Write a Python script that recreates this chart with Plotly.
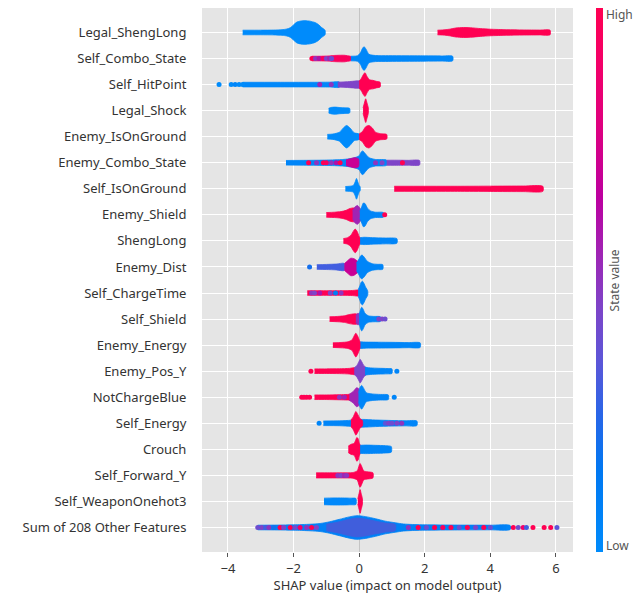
import plotly.graph_objects as go
from plotly.colors import sample_colorscale

# Feature names, top to bottom
FEATURES = [
    "Legal_ShengLong", "Self_Combo_State", "Self_HitPoint", "Legal_Shock",
    "Enemy_IsOnGround", "Enemy_Combo_State", "Self_IsOnGround", "Enemy_Shield",
    "ShengLong", "Enemy_Dist", "Self_ChargeTime", "Self_Shield",
    "Enemy_Energy", "Enemy_Pos_Y", "NotChargeBlue", "Self_Energy",
    "Crouch", "Self_Forward_Y", "Self_WeaponOnehot3", "Sum of 208 Other Features",
]

X_TICKS = [-4, -2, 0, 2, 4, 6]

# Each group: (normalised feature value, SHAP values along the group, relative point density)
LEGAL_SHENGLONG = [
    (0.0, [-3.55, -3.0, -2.6, -2.35, -2.2, -2.1, -2.0, -1.9, -1.78, -1.65, -1.5, -1.34, -1.24,
           -1.14, -1.04],
     [0.22, 0.22, 0.23, 0.26, 0.32, 0.42, 0.65, 0.88, 0.97, 1.0, 0.96, 0.84, 0.68, 0.43, 0.22]),
    (1.0, [2.39, 2.55, 2.75, 2.95, 3.18, 3.4, 3.7, 4.0, 4.5, 5.0, 5.5, 5.82],
     [0.22, 0.24, 0.3, 0.4, 0.44, 0.42, 0.35, 0.3, 0.26, 0.24, 0.23, 0.22]),
]
SELF_COMBO_STATE = [
    (0.95, [-1.44, -1.2, -0.95, -0.78, -0.6, -0.45, -0.36, -0.25],
     [0.22, 0.22, 0.24, 0.28, 0.3, 0.3, 0.26, 0.2]),
    (0.03, [-0.25, -0.05, 0.04, 0.1, 0.15, 0.21, 0.3, 0.5, 0.9, 1.4, 2.0, 2.5, 2.85],
     [0.22, 0.26, 0.5, 0.85, 1.0, 0.8, 0.38, 0.28, 0.27, 0.26, 0.25, 0.24, 0.22]),
]
SELF_HITPOINT = [
    (0.02, [-3.55, -2.5, -1.5, -0.9, -0.6], [0.22, 0.22, 0.22, 0.23, 0.24]),
    (0.45, [-0.65, -0.4, -0.2, -0.05, 0.06], [0.23, 0.26, 0.3, 0.34, 0.3]),
    (1.0, [0.0, 0.07, 0.13, 0.18, 0.24, 0.32, 0.42, 0.52, 0.64],
     [0.3, 0.55, 0.85, 1.0, 0.7, 0.42, 0.38, 0.3, 0.22]),
]
LEGAL_SHOCK = [
    (0.0, [-0.93, -0.84, -0.72, -0.58, -0.42, -0.29], [0.22, 0.3, 0.32, 0.28, 0.26, 0.22]),
    (1.0, [0.12, 0.16, 0.2, 0.24, 0.28], [0.25, 0.65, 1.0, 0.65, 0.25]),
]
ENEMY_ISONGROUND = [
    (0.0, [-0.97, -0.8, -0.6, -0.48, -0.38, -0.28, -0.15, 0.0],
     [0.22, 0.25, 0.4, 0.75, 0.95, 0.75, 0.35, 0.25]),
    (1.0, [0.0, 0.1, 0.2, 0.3, 0.4, 0.5, 0.65, 0.84],
     [0.25, 0.45, 0.85, 0.95, 0.75, 0.4, 0.28, 0.22]),
]
ENEMY_COMBO_STATE = [
    (0.05, [-2.23, -1.6, -1.0, -0.5, -0.2, 0.0, 0.06, 0.11, 0.18, 0.3, 0.5, 0.84],
     [0.22, 0.23, 0.25, 0.3, 0.4, 0.6, 0.9, 1.0, 0.8, 0.45, 0.3, 0.24]),
    (0.7, [-0.4, -0.25, -0.12, -0.02], [0.26, 0.38, 0.45, 0.35]),
    (0.45, [0.84, 1.2, 1.5, 1.84], [0.24, 0.24, 0.23, 0.22]),
]
SELF_ISONGROUND = [
    (0.0, [-0.42, -0.3, -0.18, -0.12, -0.08, -0.04, 0.0, 0.03],
     [0.22, 0.24, 0.3, 0.6, 0.88, 0.6, 0.3, 0.2]),
    (1.0, [1.07, 2.0, 3.0, 4.0, 5.0, 5.6], [0.24, 0.24, 0.24, 0.25, 0.26, 0.24]),
]
ENEMY_SHIELD = [
    (1.0, [-1.0, -0.75, -0.55, -0.4, -0.28, -0.15, -0.05],
     [0.22, 0.25, 0.3, 0.4, 0.55, 0.6, 0.45]),
    (0.55, [-0.2, -0.12, -0.05, 0.02, 0.08], [0.35, 0.7, 0.8, 0.6, 0.3]),
    (0.05, [0.02, 0.08, 0.13, 0.18, 0.25, 0.35, 0.5, 0.74],
     [0.3, 0.7, 1.0, 0.95, 0.6, 0.35, 0.25, 0.22]),
]
SHENGLONG = [
    (1.0, [-0.48, -0.35, -0.25, -0.17, -0.12, -0.06, 0.0, 0.05],
     [0.22, 0.3, 0.5, 0.85, 1.0, 0.8, 0.4, 0.22]),
    (0.05, [0.03, 0.15, 0.4, 0.8, 1.15], [0.3, 0.33, 0.3, 0.27, 0.22]),
]
ENEMY_DIST = [
    (0.3, [-1.29, -1.0, -0.7, -0.45], [0.22, 0.24, 0.27, 0.32]),
    (0.7, [-0.45, -0.35, -0.25, -0.15, -0.05, 0.02], [0.3, 0.55, 0.75, 0.7, 0.5, 0.3]),
    (0.05, [-0.08, 0.0, 0.05, 0.09, 0.15, 0.25, 0.4, 0.55, 0.72],
     [0.35, 0.7, 0.95, 1.0, 0.85, 0.5, 0.3, 0.25, 0.22]),
]
SELF_CHARGETIME = [
    (1.0, [-1.58, -1.0, -0.5, -0.2, 0.0], [0.22, 0.22, 0.22, 0.24, 0.26]),
    (0.05, [-0.03, 0.02, 0.06, 0.1, 0.14, 0.2, 0.26], [0.3, 0.6, 0.9, 1.0, 0.85, 0.5, 0.22]),
]
SELF_SHIELD = [
    (1.0, [-0.9, -0.65, -0.45, -0.3, -0.18, -0.08, 0.0], [0.22, 0.25, 0.3, 0.4, 0.45, 0.45, 0.35]),
    (0.5, [-0.1, -0.04, 0.02, 0.06], [0.3, 0.5, 0.45, 0.3]),
    (0.05, [0.0, 0.04, 0.08, 0.12, 0.18, 0.28, 0.45, 0.65],
     [0.35, 0.8, 1.0, 0.85, 0.5, 0.3, 0.25, 0.22]),
]
ENEMY_ENERGY = [
    (1.0, [-0.8, -0.55, -0.35, -0.22, -0.15, -0.1, -0.04, 0.02, 0.06],
     [0.22, 0.25, 0.3, 0.45, 0.8, 1.0, 0.75, 0.35, 0.22]),
    (0.05, [0.04, 0.2, 0.6, 1.0, 1.5, 1.86], [0.3, 0.28, 0.27, 0.26, 0.24, 0.22]),
]
ENEMY_POS_Y = [
    (1.0, [-1.36, -1.0, -0.6, -0.3, -0.12], [0.22, 0.22, 0.23, 0.26, 0.3]),
    (0.45, [-0.15, -0.07, 0.0, 0.03, 0.08, 0.14, 0.22], [0.3, 0.5, 0.85, 1.0, 0.8, 0.5, 0.3]),
    (0.05, [0.18, 0.35, 0.6, 0.85, 1.0], [0.35, 0.3, 0.27, 0.25, 0.22]),
]
NOTCHARGEBLUE = [
    (1.0, [-1.36, -1.0, -0.6, -0.35, -0.2], [0.22, 0.22, 0.24, 0.26, 0.28]),
    (0.55, [-0.3, -0.18, -0.08, -0.02, 0.03], [0.28, 0.5, 0.8, 0.75, 0.4]),
    (0.05, [-0.02, 0.03, 0.08, 0.14, 0.22, 0.4, 0.65, 0.89],
     [0.4, 0.85, 1.0, 0.75, 0.4, 0.3, 0.26, 0.22]),
]
SELF_ENERGY = [
    (0.05, [-1.09, -0.6, -0.25, 0.1, 0.5, 1.0, 1.4, 1.76],
     [0.22, 0.23, 0.28, 0.35, 0.3, 0.26, 0.24, 0.22]),
    (1.0, [-0.25, -0.18, -0.13, -0.1, -0.05, 0.02, 0.1], [0.3, 0.55, 0.85, 1.0, 0.8, 0.45, 0.25]),
]
CROUCH = [
    (1.0, [-0.33, -0.24, -0.16, -0.11, -0.07, -0.03, 0.01, 0.05],
     [0.3, 0.45, 0.5, 0.75, 1.0, 0.9, 0.5, 0.3]),
    (0.05, [0.03, 0.2, 0.5, 0.8, 0.98], [0.36, 0.38, 0.36, 0.33, 0.26]),
]
SELF_FORWARD_Y = [
    (1.0, [-1.31, -0.9, -0.5, -0.2, -0.06, 0.0, 0.03, 0.08, 0.14, 0.25, 0.42],
     [0.24, 0.24, 0.24, 0.26, 0.4, 0.85, 1.0, 0.75, 0.4, 0.33, 0.24]),
]
SELF_WEAPONONEHOT3 = [
    (0.02, [-1.07, -0.8, -0.5, -0.25, -0.1], [0.3, 0.32, 0.32, 0.3, 0.28]),
    (1.0, [-0.04, 0.0, 0.03, 0.06, 0.1], [0.25, 0.7, 1.0, 0.7, 0.25]),
]
SUM_OTHER = [
    (0.08, [-3.09, -2.5, -2.0, -1.5, -1.19, -0.9, -0.6, -0.3, -0.07, 0.2, 0.5, 0.8, 1.1, 1.35,
            1.7, 2.0, 3.0, 4.0, 4.6],
     [0.22, 0.23, 0.25, 0.3, 0.36, 0.5, 0.7, 0.9, 1.0, 0.92, 0.75, 0.55, 0.42, 0.32, 0.27,
      0.25, 0.23, 0.22, 0.2]),
]
# mixed high/low values inside the dense part of the last row
SUM_OTHER_MIX = [
    (0.5, [-1.0, -0.6, -0.3, -0.07, 0.2, 0.5, 0.8, 1.1],
     [0.3, 0.5, 0.7, 0.8, 0.72, 0.55, 0.4, 0.28]),
]

# Individual points: (SHAP value, normalised feature value)
SELF_COMBO_STATE_DOTS = [(-1.44, 1.0), (-1.33, 0.5), (-1.22, 0.6), (-1.1, 0.95), (-1.0, 0.45),
                         (-0.9, 0.55), (-0.84, 0.4)]
SELF_HITPOINT_DOTS = [(-4.27, 0.0), (-3.9, 0.0), (-3.78, 0.05), (-3.66, 0.0), (-3.55, 0.0),
                      (-1.2, 0.55), (-0.85, 0.5)]
ENEMY_COMBO_STATE_DOTS = [(-1.54, 1.0), (-1.3, 0.5), (-1.09, 1.0), (-1.0, 0.95), (-0.85, 0.5),
                          (-0.7, 0.6), (-0.58, 1.0), (0.5, 0.5), (0.7, 0.45), (1.32, 1.0)]
ENEMY_SHIELD_DOTS = [(0.78, 1.0)]
ENEMY_DIST_DOTS = [(-1.51, 0.2)]
SELF_CHARGETIME_DOTS = [(-1.45, 0.5), (-1.36, 0.45), (-1.2, 0.6), (-0.88, 0.45), (-0.72, 0.1),
                        (-0.55, 0.5)]
SELF_SHIELD_DOTS = [(0.6, 0.45), (0.7, 0.45), (0.79, 0.4)]
ENEMY_POS_Y_DOTS = [(-1.47, 1.0), (1.15, 0.05)]
NOTCHARGEBLUE_DOTS = [(-1.75, 1.0), (-1.68, 1.0), (-1.6, 1.0), (-1.51, 1.0), (-0.6, 0.5),
                      (-0.45, 0.55), (1.07, 0.05)]
SELF_ENERGY_DOTS = [(-1.22, 0.05), (0.8, 0.35), (0.9, 0.45), (1.0, 0.4), (1.15, 0.45),
                    (1.3, 0.5)]
SELF_FORWARD_Y_DOTS = [(-0.65, 0.5), (-0.55, 0.45), (-0.45, 0.55), (-0.38, 0.5)]
SUM_OTHER_DOTS = [(-3.09, 0.4), (-2.97, 0.45), (-2.85, 0.3), (-2.75, 0.5), (-2.6, 0.2),
                  (-2.41, 1.0), (-2.3, 0.45), (-2.1, 1.0), (-1.95, 0.4), (-1.8, 0.9),
                  (-1.6, 0.5), (-1.45, 1.0), (-1.3, 0.45), (1.5, 0.5), (1.8, 1.0),
                  (2.05, 0.4), (2.3, 1.0), (2.55, 0.95), (2.8, 1.0), (3.05, 0.4), (3.3, 1.0),
                  (3.55, 0.45), (3.8, 1.0), (4.0, 0.4), (4.3, 0.1), (4.55, 0.05), (4.7, 1.0),
                  (4.85, 0.4), (5.0, 0.9), (5.1, 0.3), (5.3, 1.0), (5.64, 1.0), (5.84, 1.0),
                  (6.03, 0.35)]

ROWS = [
    (LEGAL_SHENGLONG, []), (SELF_COMBO_STATE, SELF_COMBO_STATE_DOTS),
    (SELF_HITPOINT, SELF_HITPOINT_DOTS), (LEGAL_SHOCK, []), (ENEMY_ISONGROUND, []),
    (ENEMY_COMBO_STATE, ENEMY_COMBO_STATE_DOTS), (SELF_ISONGROUND, []),
    (ENEMY_SHIELD, ENEMY_SHIELD_DOTS), (SHENGLONG, []), (ENEMY_DIST, ENEMY_DIST_DOTS),
    (SELF_CHARGETIME, SELF_CHARGETIME_DOTS), (SELF_SHIELD, SELF_SHIELD_DOTS),
    (ENEMY_ENERGY, []), (ENEMY_POS_Y, ENEMY_POS_Y_DOTS), (NOTCHARGEBLUE, NOTCHARGEBLUE_DOTS),
    (SELF_ENERGY, SELF_ENERGY_DOTS), (CROUCH, []), (SELF_FORWARD_Y, SELF_FORWARD_Y_DOTS),
    (SELF_WEAPONONEHOT3, []), (SUM_OTHER, SUM_OTHER_DOTS),
]

# blue -> purple -> red feature-value palette
COLORSCALE = [
    [0.0, "rgb(0,139,251)"], [0.15, "rgb(0,120,242)"], [0.25, "rgb(40,102,232)"],
    [0.35, "rgb(92,86,216)"], [0.45, "rgb(126,68,200)"], [0.55, "rgb(160,36,180)"],
    [0.65, "rgb(188,0,160)"], [0.78, "rgb(222,0,128)"], [0.9, "rgb(244,0,104)"],
    [1.0, "rgb(255,0,82)"],
]

HALF = 0.47    # half thickness of the densest part, in row units
INSET = 0.015  # shrink that compensates for the outline width
FONT = "Noto Sans"


def color_of(v):
    return sample_colorscale(COLORSCALE, [v])[0]


def add_group(fig, ypos, value, xs, dens, opacity=1.0):
    c = color_of(value)
    upper = [ypos + d * HALF - INSET for d in dens]
    lower = [ypos - d * HALF + INSET for d in dens][::-1]
    fig.add_trace(go.Scatter(
        x=list(xs) + list(xs)[::-1], y=upper + lower, mode="lines",
        fill="toself", fillcolor=c,
        line=dict(color=c, width=0.8, shape="spline", smoothing=0.7),
        opacity=opacity, hoverinfo="skip", showlegend=False,
    ))


fig = go.Figure()
n = len(FEATURES)
for i, (groups, dots) in enumerate(ROWS):
    ypos = n - 1 - i
    for value, xs, dens in groups:
        add_group(fig, ypos, value, xs, dens)
    if groups is SUM_OTHER:
        for value, xs, dens in SUM_OTHER_MIX:
            add_group(fig, ypos, value, xs, dens, opacity=0.45)
    if dots:
        fig.add_trace(go.Scatter(
            x=[d[0] for d in dots], y=[ypos] * len(dots), mode="markers",
            marker=dict(size=5, color=[color_of(d[1]) for d in dots], line=dict(width=0)),
            hoverinfo="skip", showlegend=False,
        ))

# colour bar
fig.add_trace(go.Scatter(
    x=[None], y=[None], mode="markers", showlegend=False, hoverinfo="skip",
    marker=dict(
        color=[0], cmin=0, cmax=1, colorscale=COLORSCALE, showscale=True,
        colorbar=dict(
            thickness=7, len=1, lenmode="fraction", x=1.062, xanchor="left",
            y=0.5, yanchor="middle", outlinewidth=0, xpad=0, ypad=0,
            tickvals=[0.012, 0.988], ticktext=["Low", "High"], ticks="",
            tickfont=dict(family=FONT, size=12, color="#555555"),
        ),
    ),
))

fig.add_annotation(
    text="State value", textangle=-90, xref="paper", yref="paper",
    x=1.14, y=0.5, showarrow=False,
    font=dict(family=FONT, size=12, color="#555555"),
)

fig.update_layout(
    width=643, height=594,
    margin=dict(l=202, r=70, t=8, b=42, autoexpand=False),
    paper_bgcolor="white", plot_bgcolor="#e5e5e5",
    font=dict(family=FONT, size=13, color="#333333"),
    xaxis=dict(
        range=[-4.79, 6.52], tickvals=X_TICKS, showgrid=True, gridcolor="white",
        gridwidth=1, zeroline=True, zerolinecolor="#c4c4c4", zerolinewidth=1,
        ticks="outside", ticklen=4, tickcolor="#555555", automargin=False,
        tickfont=dict(family=FONT, size=13, color="#333333"),
        title=dict(text="SHAP value (impact on model output)", standoff=4,
                   font=dict(family=FONT, size=13, color="#333333")),
    ),
    yaxis=dict(
        range=[-0.94, n - 1 + 0.94], tickvals=list(range(n)),
        ticktext=FEATURES[::-1], showgrid=True, gridcolor="white", gridwidth=1,
        zeroline=False, ticks="outside", ticklen=12, tickcolor="rgba(0,0,0,0)",
        automargin=False, tickfont=dict(family=FONT, size=13, color="#333333"),
    ),
)

fig.write_html("out.html")
